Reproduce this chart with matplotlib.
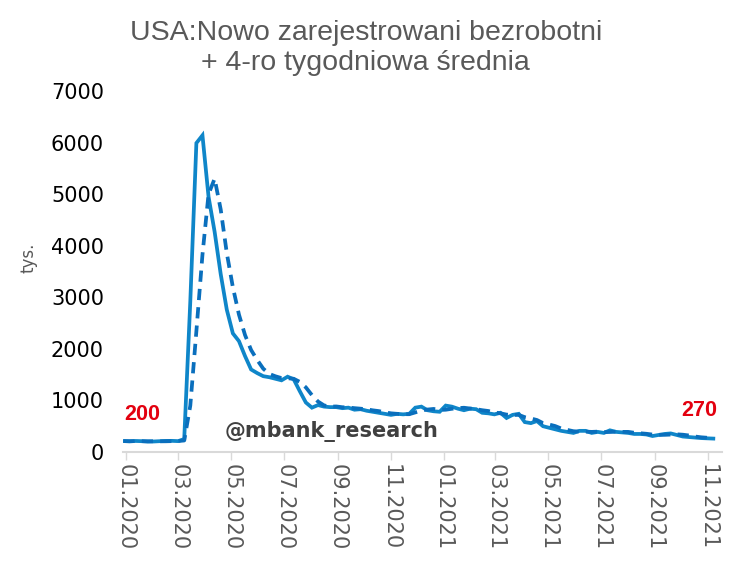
import matplotlib
matplotlib.use("Agg")
import matplotlib.pyplot as plt
import matplotlib.dates as mdates
import pandas as pd

# weekly initial jobless claims, thousands
weeks = pd.date_range("2019-12-29", periods=98, freq="7D")
claims = [
    212, 206, 214, 210, 202, 204, 210, 215, 216, 211,
    250, 2920, 5990, 6140, 4950, 4270, 3450, 2760, 2300, 2150,
    1860, 1600, 1530, 1470, 1450, 1420, 1390, 1460, 1410, 1180,
    960, 860, 910, 880, 870, 870, 850, 860, 820, 830,
    800, 780, 760, 740, 720, 740, 730, 740, 860, 880,
    810, 790, 780, 900, 880, 840, 810, 840, 830, 760,
    750, 730, 760, 660, 720, 740, 580, 560, 600, 500,
    470, 440, 410, 390, 370, 410, 410, 370, 390, 370,
    420, 390, 380, 370, 350, 350, 340, 310, 330, 350,
    360, 330, 300, 290, 280, 270, 265, 260,
]
# 4-week average
avg4 = [
    212, 210, 211, 210, 208, 208, 207, 208, 211, 213,
    223, 899, 2343, 3825, 5000, 5300, 4703, 3858, 3195, 2665,
    2268, 1978, 1785, 1615, 1513, 1468, 1433, 1430, 1420, 1360,
    1253, 1103, 978, 903, 880, 883, 868, 863, 850, 840,
    828, 808, 793, 770, 750, 740, 733, 733, 768, 803,
    823, 835, 815, 820, 838, 850, 858, 843, 830, 810,
    795, 768, 750, 725, 718, 720, 675, 650, 620, 560,
    533, 503, 455, 428, 403, 395, 395, 390, 395, 385,
    388, 393, 390, 390, 373, 363, 353, 338, 333, 333,
    338, 343, 335, 320, 300, 285, 276, 269,
]
end_labels = ["200", "270"]

W, H = 733, 574
fig = plt.figure(figsize=(W / 100, H / 100), dpi=100)
ax = fig.add_axes([123.4 / W, (H - 452) / H, (722 - 123.4) / W, (452 - 91) / H])

ax.plot(weeks, claims, color="#0f86c9", lw=2.7, solid_joinstyle="miter")
ax.plot(weeks, avg4, color="#0a6fbd", lw=2.7, linestyle=(0, (3, 1.9)))

ax.set_xlim(pd.Timestamp("2019-12-29"), pd.Timestamp("2021-11-17"))
ax.set_ylim(0, 7000)
ax.set_yticks(range(0, 7001, 1000))
ax.xaxis.set_major_locator(mdates.MonthLocator(bymonth=[1, 3, 5, 7, 9, 11]))
ax.xaxis.set_major_formatter(mdates.DateFormatter("%m.%Y"))

for s in ["top", "right", "left"]:
    ax.spines[s].set_visible(False)
ax.spines["bottom"].set_color("#d9d9d9")
ax.spines["bottom"].set_linewidth(1.5)
ax.tick_params(axis="y", length=0, pad=14, labelsize=15, labelcolor="black")
ax.tick_params(axis="x", length=6, width=1, color="#d9d9d9", pad=3,
               labelsize=15, labelcolor="#595959", labelrotation=270)
for lbl in ax.get_xticklabels():
    lbl.set_va("top")
    lbl.set_ha("center")

ax.annotate(end_labels[0], xy=(weeks[0], claims[0]), xytext=(13.5, 19),
            textcoords="offset points", ha="center", va="center",
            color="#e3000f", fontsize=15.5, fontweight="bold", family="Liberation Sans")
ax.annotate(end_labels[1], xy=(weeks[-1], claims[-1]), xytext=(-10, 20),
            textcoords="offset points", ha="center", va="center",
            color="#e3000f", fontsize=15.5, fontweight="bold", family="Liberation Sans")

fig.text(225 / W, 1 - 431 / H, "@mbank_research", ha="left", va="center",
         fontsize=15, fontweight="bold", color="#404040")
fig.text(28 / W, 1 - 258 / H, "tys.", rotation=90, ha="center", va="center",
         fontsize=12, color="#595959")
fig.text(0.499, 1 - 48 / H, "USA:Nowo zarejestrowani bezrobotni\n+ 4-ro tygodniowa średnia",
         ha="center", va="center", fontsize=20.5, color="#595959",
         family="Liberation Sans", linespacing=1.15)

fig.savefig("out.png", dpi=100)
